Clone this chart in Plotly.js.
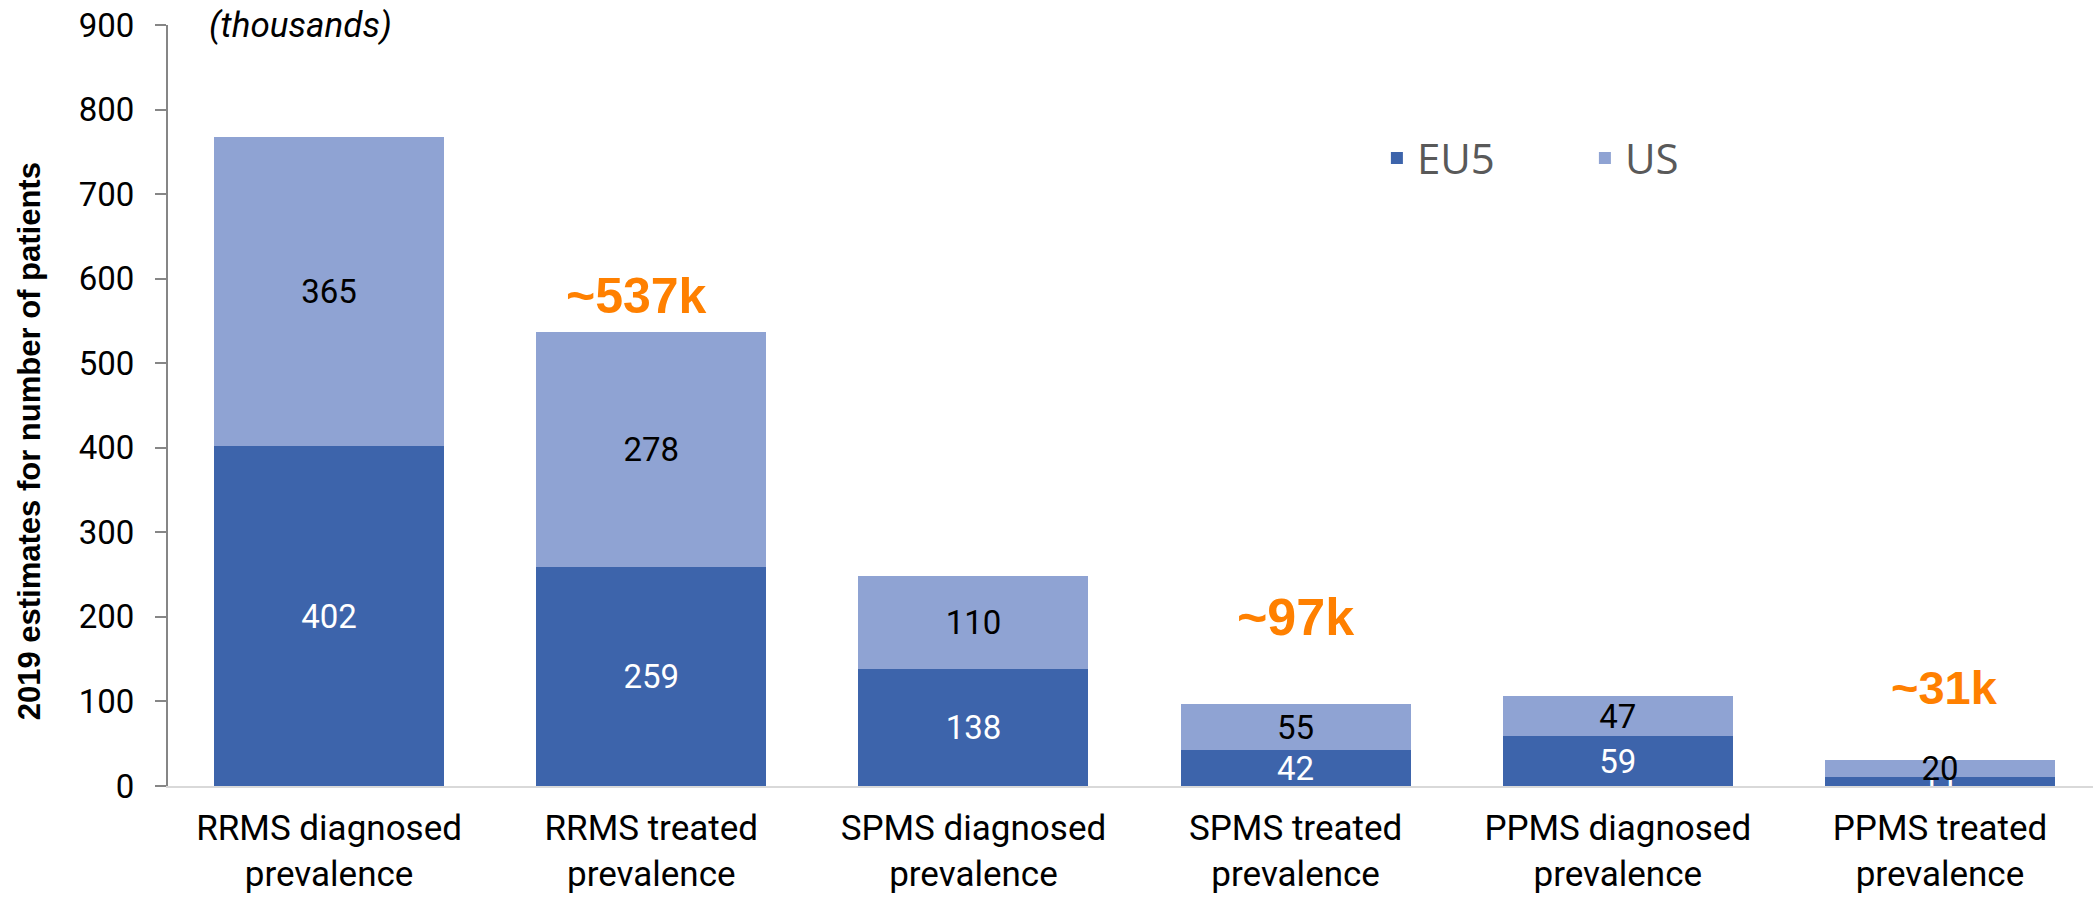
<!DOCTYPE html>
<html>
<head>
<meta charset="utf-8">
<script src="https://cdn.plot.ly/plotly-3.0.1.min.js"></script>
<style>html,body{margin:0;padding:0;background:#fff;}#chart{width:2093px;height:899px;}</style>
</head>
<body>
<div id="chart"></div>
<script>
const categories = [
  "RRMS diagnosed<br>prevalence",
  "RRMS treated<br>prevalence",
  "SPMS diagnosed<br>prevalence",
  "SPMS treated<br>prevalence",
  "PPMS diagnosed<br>prevalence",
  "PPMS treated<br>prevalence"
];
const eu5 = [402, 259, 138, 42, 59, 11];
const us = [365, 278, 110, 55, 47, 20];
const totalLabels = ["", "~537k", "", "~97k", "", "~31k"];
const yTicks = [0, 100, 200, 300, 400, 500, 600, 700, 800, 900];

const idx = categories.map((_, i) => i);

const traces = [
  {
    type: "bar", name: "EU5", x: idx, y: eu5,
    marker: {color: "#3D64AB"},
    text: eu5.map(String), textposition: "inside", insidetextanchor: "middle",
    textangle: 0, textfont: {family: "Roboto", size: 33, color: "#ffffff"},
    hoverinfo: "skip"
  },
  {
    type: "bar", name: "US", x: idx, y: us,
    marker: {color: "#8FA3D3"},
    text: us.map(String), textposition: "inside", insidetextanchor: "middle",
    textangle: 0, textfont: {family: "Roboto", size: 33, color: "#000000"},
    hoverinfo: "skip"
  }
];

const shiftX = [0, -15, 0, 0, 0, 5];
const shiftY = [0, 36, 0, 87, 0, 72];
const sizes = [50, 50, 50, 52, 50, 47];
const annotations = [];
totalLabels.forEach((t, i) => {
  if (!t) return;
  annotations.push({
    x: i, y: eu5[i] + us[i], xref: "x", yref: "y",
    text: "<b>" + t + "</b>", showarrow: false,
    xshift: shiftX[i], yshift: shiftY[i], yanchor: "middle",
    font: {family: "Liberation Sans", size: sizes[i], color: "#FF8000"}
  });
});
annotations.push({
  x: 0.0686, y: 1.0, xref: "paper", yref: "paper", showarrow: false,
  text: "<i>(thousands)</i>", yanchor: "middle", xanchor: "center",
  font: {family: "Roboto", size: 35, color: "#000"}
});
annotations.push({
  x: -0.0722, y: 0.453, xref: "paper", yref: "paper", showarrow: false,
  text: "<b>2019 estimates for number of patients</b>", textangle: -90,
  xanchor: "center", yanchor: "middle",
  font: {family: "Liberation Sans", size: 31, color: "#000"}
});

const layout = {
  width: 2093, height: 899,
  margin: {l: 168, r: 0, t: 25, b: 113},
  paper_bgcolor: "#ffffff", plot_bgcolor: "#ffffff",
  barmode: "stack", bargap: 0.286,
  uniformtext: {mode: "show", minsize: 33},
  showlegend: true,
  legend: {
    orientation: "h", x: 0.628, xanchor: "left", y: 0.825, yanchor: "middle",
    font: {family: "Open Sans", size: 42, color: "#595959"},
    entrywidth: 163, entrywidthmode: "pixels", traceorder: "normal",
    bgcolor: "rgba(0,0,0,0)"
  },
  xaxis: {
    range: [-0.5, 5.475], tickmode: "array", tickvals: idx, ticktext: categories,
    showline: true, linecolor: "#D9D9D9", linewidth: 2, ticks: "",
    showgrid: false, zeroline: false, fixedrange: true,
    tickfont: {family: "Roboto", size: 35, color: "#000"},
    ticklabelstandoff: 10
  },
  yaxis: {
    range: [0, 900], tickmode: "array", tickvals: yTicks,
    showline: true, linecolor: "#868686", linewidth: 2,
    ticks: "outside", ticklen: 11, tickcolor: "#868686", tickwidth: 2,
    showgrid: false, zeroline: false, fixedrange: true,
    tickfont: {family: "Roboto", size: 33, color: "#000"},
    ticklabelstandoff: 14
  },
  annotations: annotations
};

Plotly.newPlot("chart", traces, layout, {displayModeBar: false, staticPlot: true});
</script>
</body>
</html>
